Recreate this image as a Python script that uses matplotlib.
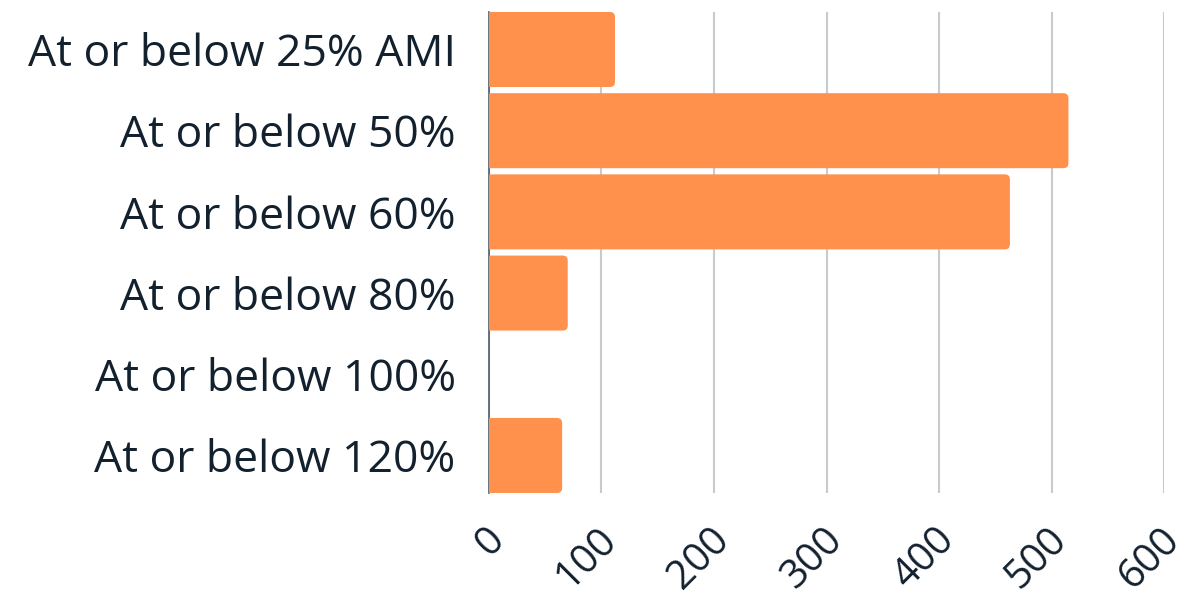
import matplotlib.pyplot as plt
from matplotlib.patches import PathPatch
from matplotlib.path import Path
from matplotlib.transforms import ScaledTranslation

plt.rcParams['font.family'] = ['Open Sans', 'DejaVu Sans']

categories = ['At or below 25% AMI', 'At or below 50%', 'At or below 60%',
              'At or below 80%', 'At or below 100%', 'At or below 120%']
values = [112, 515, 463, 70, 0, 65]
xticks = [0, 100, 200, 300, 400, 500, 600]

text_color = '#13212f'
bar_color = '#ff914d'

fig = plt.figure(figsize=(11.86, 6.02), dpi=100)
ax = fig.add_axes([0.4123, 0.1811, 0.5692, 0.799])

pos = list(range(len(categories)))
h = 0.924
bars = ax.barh(pos, values, height=h, color=bar_color, zorder=3)

# swap each bar for one with rounded right-hand corners
rx, ry = 4.5, 0.062
for b in bars:
    w = b.get_width()
    b.set_visible(False)
    if w <= 0:
        continue
    x0, y0 = b.get_x(), b.get_y()
    x1, y1 = x0 + w, y0 + b.get_height()
    verts = [(x0, y0), (x1 - rx, y0), (x1, y0), (x1, y0 + ry),
             (x1, y1 - ry), (x1, y1), (x1 - rx, y1), (x0, y1), (x0, y0)]
    codes = [Path.MOVETO, Path.LINETO, Path.CURVE3, Path.CURVE3,
             Path.LINETO, Path.CURVE3, Path.CURVE3, Path.LINETO, Path.CLOSEPOLY]
    ax.add_patch(PathPatch(Path(verts, codes), facecolor=bar_color,
                           edgecolor='none', zorder=3))

ax.set_xlim(0, 600)
ax.set_ylim(len(categories) - 1 + h / 2, -h / 2)

ax.set_yticks(pos)
ax.set_yticklabels(categories, fontsize=32, color=text_color)
ax.set_xticks(xticks)
ax.set_xticklabels([str(t) for t in xticks], fontsize=29, color=text_color)
ax.tick_params(axis='both', length=0)
ax.tick_params(axis='y', pad=24)
ax.tick_params(axis='x', pad=19)

off = ScaledTranslation(24 / 100, 0, fig.dpi_scale_trans)
for lab in ax.get_xticklabels():
    lab.set_rotation(45)
    lab.set_ha('right')
    lab.set_va('top')
    lab.set_transform(lab.get_transform() + off)

ax.grid(axis='x', color='#c7cbd0', linewidth=1.5, zorder=0)
ax.set_axisbelow(True)
for s in ['top', 'right', 'bottom']:
    ax.spines[s].set_visible(False)
ax.spines['left'].set_color('#4f5a66')
ax.spines['left'].set_linewidth(1.2)
ax.spines['left'].set_zorder(2)

fig.savefig('out.png', dpi=100)
